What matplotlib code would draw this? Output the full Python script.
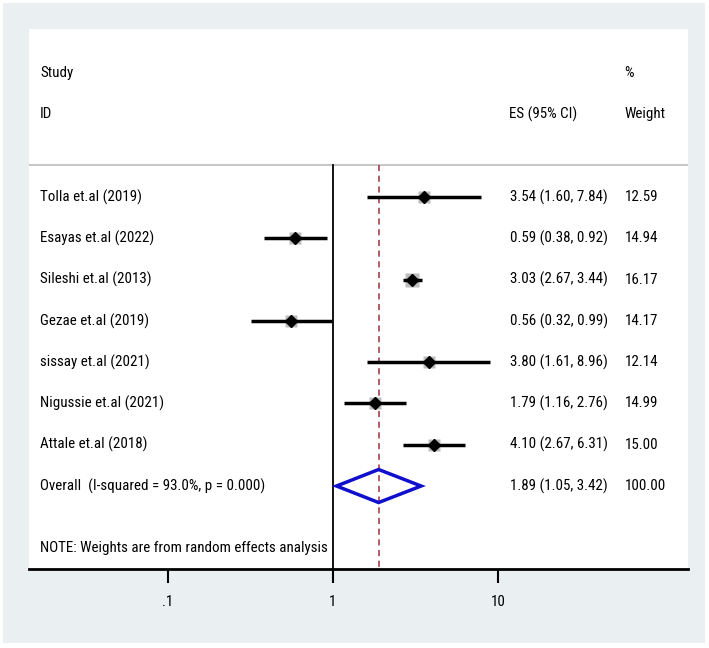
import numpy as np
import matplotlib
matplotlib.use("Agg")
import matplotlib.pyplot as plt
from matplotlib.patches import Rectangle, Polygon
from matplotlib.transforms import blended_transform_factory

plt.rcParams['font.family'] = ['Roboto Condensed', 'Liberation Sans', 'DejaVu Sans']

# study data
studies = ["Tolla et.al (2019)", "Esayas et.al (2022)", "Sileshi et.al (2013)",
           "Gezae et.al (2019)", "sissay et.al (2021)", "Nigussie et.al (2021)",
           "Attale et.al (2018)"]
es = [3.54, 0.59, 3.03, 0.56, 3.80, 1.79, 4.10]
lower = [1.60, 0.38, 2.67, 0.32, 1.61, 1.16, 2.67]
upper = [7.84, 0.92, 3.44, 0.99, 8.96, 2.76, 6.31]
weights = [12.59, 14.94, 16.17, 14.17, 12.14, 14.99, 15.00]

overall_label = "Overall  (I-squared = 93.0%, p = 0.000)"
overall_es, overall_lo, overall_hi = 1.89, 1.05, 3.42
note = "NOTE: Weights are from random effects analysis"
xticks = [0.1, 1, 10]
xticklabels = [".1", "1", "10"]

W, H = 709, 648
fig = plt.figure(figsize=(W / 100, H / 100), dpi=100)
fig.patch.set_facecolor("white")
# outer light panel
fig.patches.append(Rectangle((3 / W, 1 - 643 / H), 702 / W, 640 / H,
                             transform=fig.transFigure, facecolor="#eaf0f2",
                             edgecolor="none", zorder=-10))

left, right, top, bottom = 29, 688, 29, 569
ax = fig.add_axes([left / W, 1 - bottom / H, (right - left) / W, (bottom - top) / H])
ax.set_facecolor("white")
ax.set_xscale("log")
ax.set_xlim(10 ** ((left - 333) / 165), 10 ** ((right - 333) / 165))
ax.set_ylim(9.01, -4.07)

for s in ["top", "left", "right"]:
    ax.spines[s].set_visible(False)
ax.spines["bottom"].set_linewidth(2)
ax.set_yticks([])
ax.set_xticks(xticks)
ax.set_xticklabels(xticklabels, fontsize=10.8)
ax.xaxis.set_minor_locator(matplotlib.ticker.NullLocator())
ax.tick_params(axis="x", length=10, width=1.5, pad=9)

tr = blended_transform_factory(ax.transAxes, ax.transData)
fs = 10.8

# header
ax.text(0.0167, -3, "Study", transform=tr, fontsize=fs, va="center")
ax.text(0.0167, -2, "ID", transform=tr, fontsize=fs, va="center")
ax.text(0.7285, -2, "ES (95% CI)", transform=tr, fontsize=fs, va="center")
ax.text(0.904, -3, "%", transform=tr, fontsize=fs, va="center")
ax.text(0.904, -2, "Weight", transform=tr, fontsize=fs, va="center")
ax.axhline(-0.775, color="#c8c8c8", lw=1.5)

# reference lines
ax.plot([1, 1], [-0.775, 9.01], color="black", lw=1.3)
ax.plot([overall_es, overall_es], [-0.775, 9.01], color="#9b3040", lw=1.1,
        ls=(0, (4, 3)))

for i, (name, e, lo, hi, w) in enumerate(zip(studies, es, lower, upper, weights)):
    ax.plot([lo, hi], [i, i], color="black", lw=2.5, solid_capstyle="butt", zorder=3)
    ax.plot(e, i, marker="s", ms=9 * np.sqrt(w / 14.3), color="#bdbdbd", mec="none", zorder=2)
    ax.plot(e, i, marker="D", ms=6, color="black", zorder=4)
    ax.text(0.0167, i, name, transform=tr, fontsize=fs, va="center")
    ax.text(0.73, i, f"{e:.2f} ({lo:.2f}, {hi:.2f})", transform=tr, fontsize=fs, va="center")
    ax.text(0.904, i, f"{w:.2f}", transform=tr, fontsize=fs, va="center")

r = len(studies)
ax.add_patch(Polygon([[overall_lo, r], [overall_es, r - 0.4], [overall_hi, r],
                      [overall_es, r + 0.4]], closed=True, fill=False,
                     edgecolor="#1010cc", lw=2.5, zorder=5))
ax.text(0.0167, r, overall_label, transform=tr, fontsize=fs, va="center")
ax.text(0.73, r, f"{overall_es:.2f} ({overall_lo:.2f}, {overall_hi:.2f})",
        transform=tr, fontsize=fs, va="center")
ax.text(0.904, r, "100.00", transform=tr, fontsize=fs, va="center")
ax.text(0.0167, 8.5, note, transform=tr, fontsize=fs, va="center")

fig.savefig("out.png", dpi=100, facecolor=fig.get_facecolor())
